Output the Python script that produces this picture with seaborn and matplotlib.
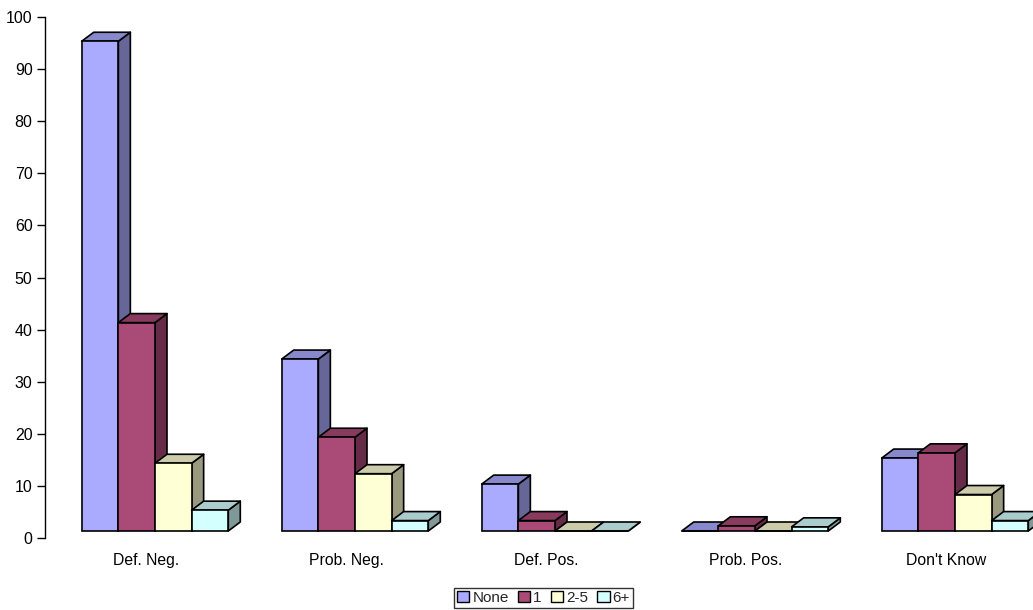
import numpy as np
import pandas as pd
import matplotlib
matplotlib.use("Agg")
import matplotlib.pyplot as plt
import matplotlib.transforms as mtransforms
from matplotlib.patches import Polygon, Patch
import seaborn as sns

# ---- data -------------------------------------------------------------
categories = ["Def. Neg.", "Prob. Neg.", "Def. Pos.", "Prob. Pos.", "Don't Know"]
series = ["None", "1", "2-5", "6+"]
none_vals = [94, 33, 9, 0, 14]
one_vals = [40, 18, 2, 1, 15]
two_five_vals = [13, 11, 0, 0, 7]
six_plus_vals = [4, 2, 0, 0.8, 2]
y_ticks = [0, 10, 20, 30, 40, 50, 60, 70, 80, 90, 100]

front_colors = ["#AAAAFF", "#AA4A77", "#FFFFD6", "#D4FFFF"]


def shade(hex_color, factor):
    rgb = np.array(matplotlib.colors.to_rgb(hex_color)) * factor
    return tuple(np.clip(rgb, 0, 1))


df = pd.DataFrame({
    "category": np.tile(categories, len(series)),
    "series": np.repeat(series, len(categories)),
    "value": none_vals + one_vals + two_five_vals + six_plus_vals,
})

# ---- figure ------------------------------------------------------------
sns.set_theme(style="white")
plt.rcParams["font.family"] = ["Liberation Sans", "DejaVu Sans"]

W, H, DPI = 1033, 610, 100
fig = plt.figure(figsize=(W / DPI, H / DPI), dpi=DPI)
ax_left, ax_bottom = 45 / W, (H - 538) / H
ax = fig.add_axes([ax_left, ax_bottom, 1 - ax_left, (538 - 17) / H])

EDGE_LW = 1.2
sns.barplot(data=df, x="category", y="value", hue="series",
            hue_order=series, order=categories, palette=front_colors,
            saturation=1, width=0.733, gap=0, edgecolor="black",
            linewidth=EDGE_LW, legend=False, errorbar=None, ax=ax)

# scales: 200 px per category, 0 at bottom of axes, 100 at top
ax.set_xlim(-(155 - 45) / 200, (W - 155) / 200)
ax.set_ylim(0, 100)

# 3-D depth, in pixels
depth_x, depth_y, lift = 12, 9, 7
p0 = ax.transData.transform((0, 0))
p1 = ax.transData.transform((1, 1))
ddx = depth_x / (p1[0] - p0[0])
ddy = depth_y / (p1[1] - p0[1])
bar_trans = mtransforms.offset_copy(ax.transData, fig=fig, x=0, y=lift, units="dots")

bars = sorted(ax.patches, key=lambda p: p.get_x())
for k, p in enumerate(bars):
    x0, w, h = p.get_x(), p.get_width(), p.get_height()
    fc = p.get_facecolor()
    base = 2 + 2 * k
    p.set_transform(bar_trans)
    p.set_zorder(base + 1)
    p.set_clip_on(False)
    top = Polygon([(x0, h), (x0 + w, h), (x0 + w + ddx, h + ddy), (x0 + ddx, h + ddy)],
                  closed=True, facecolor=shade(fc[:3], 0.8), edgecolor="black",
                  linewidth=EDGE_LW, joinstyle="round", transform=bar_trans,
                  zorder=base, clip_on=False)
    side = Polygon([(x0 + w, 0), (x0 + w + ddx, ddy), (x0 + w + ddx, h + ddy), (x0 + w, h)],
                   closed=True, facecolor=shade(fc[:3], 0.6), edgecolor="black",
                   linewidth=EDGE_LW, joinstyle="round", transform=bar_trans,
                   zorder=base, clip_on=False)
    ax.add_patch(side)
    ax.add_patch(top)

# ---- axes styling -------------------------------------------------------
for s in ["top", "right", "bottom"]:
    ax.spines[s].set_visible(False)
ax.spines["left"].set_color("black")
ax.spines["left"].set_linewidth(1.0)
ax.set_yticks(y_ticks)
ax.tick_params(axis="y", left=True, length=6, width=1.0, color="black",
               labelsize=11.5, pad=3, labelcolor="black")
ax.tick_params(axis="x", bottom=False, length=0, labelsize=11.3, pad=11,
               labelcolor="black")
ax.set_xlabel("")
ax.set_ylabel("")
ax.grid(False)

label_shift = mtransforms.ScaledTranslation(-9 / DPI, 0, fig.dpi_scale_trans)
for lab in ax.get_xticklabels():
    lab.set_transform(lab.get_transform() + label_shift)

handles = [Patch(facecolor=c, edgecolor="black", linewidth=1.0) for c in front_colors]
leg = fig.legend(handles, series, loc="lower center", bbox_to_anchor=(543.5 / W, 2 / H),
                 ncol=4, frameon=True, fancybox=False, fontsize=11,
                 handlelength=0.8, handleheight=0.8, handletextpad=0.2,
                 columnspacing=0.6, borderpad=0.2, borderaxespad=0)
leg.get_frame().set_edgecolor("black")
leg.get_frame().set_linewidth(1.0)

fig.savefig("out.png", dpi=DPI)
